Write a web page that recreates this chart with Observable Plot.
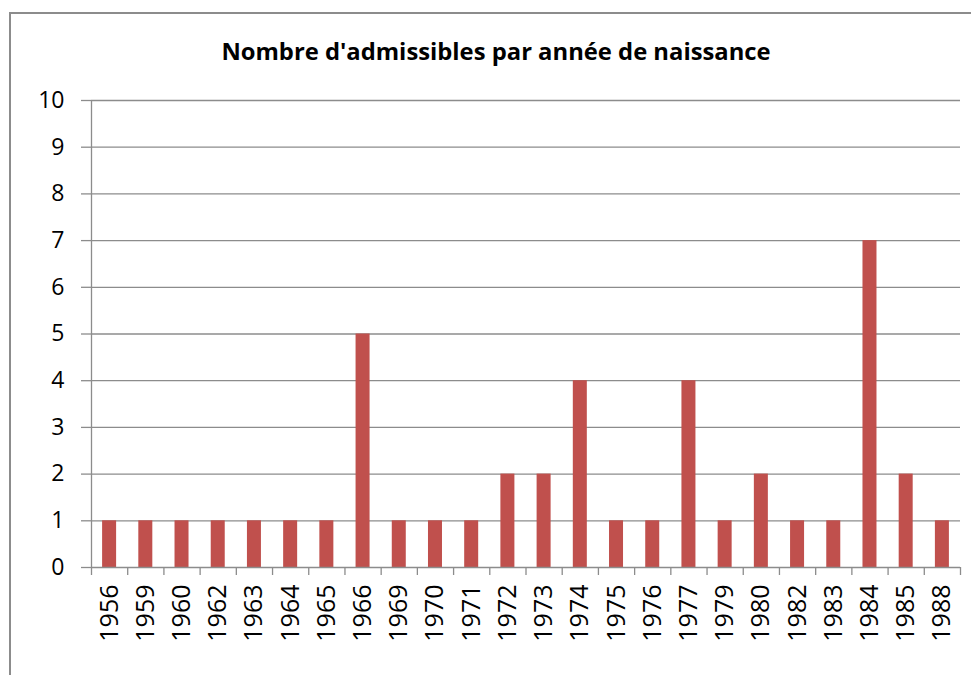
<!DOCTYPE html>
<html>
<head>
<meta charset="utf-8">
<script src="https://cdn.jsdelivr.net/npm/d3@7"></script>
<script src="https://cdn.jsdelivr.net/npm/@observablehq/plot@0.6"></script>
<style>
  html, body { margin: 0; padding: 0; background: #fff; width: 971px; height: 675px; overflow: hidden; }
  #frame { position: absolute; left: 9px; top: 12px; width: 1000px; height: 700px; border-left: 2px solid #8c8c8c; border-top: 2px solid #8c8c8c; }
  #title { position: absolute; left: 0; width: 992px; top: 37px; text-align: center; font: bold 23.8px "Open Sans", sans-serif; color: #000; line-height: 28px; z-index: 2; }
  #chart { position: absolute; left: 0; top: 0; }
</style>
</head>
<body>
<div id="frame"></div>
<div id="title">Nombre d'admissibles par année de naissance</div>
<div id="chart"></div>
<script>
const years = ["1956","1959","1960","1962","1963","1964","1965","1966","1969","1970","1971","1972","1973","1974","1975","1976","1977","1979","1980","1982","1983","1984","1985","1988"];
const counts = [1,1,1,1,1,1,1,5,1,1,1,2,2,4,1,1,4,1,2,1,1,7,2,1];
const yTicks = [0,1,2,3,4,5,6,7,8,9,10];
const gridTicks = [1,2,3,4,5,6,7,8,9,10];

const data = years.map((y, i) => ({year: y, count: counts[i]}));

const W = 971, H = 675, mL = 91, mR = 11, mT = 100, mB = 108;
const bw = (W - mL - mR) / years.length;
const barW = 14;
const inset = (bw - barW) / 2;
const gray = "#8c8c8c";

const chart = Plot.plot({
  width: W,
  height: H,
  marginLeft: mL,
  marginRight: mR,
  marginTop: mT,
  marginBottom: mB,
  style: { fontFamily: "'Open Sans', sans-serif", fontSize: "23px", color: "#000", background: "transparent" },
  x: { domain: years, padding: 0, round: false, label: null },
  y: { domain: [0, 10], label: null },
  marks: [
    Plot.ruleY(gridTicks, { stroke: gray, strokeWidth: 1.3 }),
    Plot.barY(data, { x: "year", y: "count", fill: "#C0504D", insetLeft: inset, insetRight: inset }),
    Plot.ruleY([0], { stroke: gray, strokeWidth: 1.3 }),
    Plot.ruleX([years[0]], { stroke: gray, strokeWidth: 1.3, dx: -bw / 2 }),
    Plot.ruleX(years, { y1: 0, y2: -0.171, stroke: gray, strokeWidth: 1.3, dx: -bw / 2 }),
    Plot.ruleX([years[years.length - 1]], { y1: 0, y2: -0.171, stroke: gray, strokeWidth: 1.3, dx: bw / 2 }),
    Plot.axisY(yTicks, { tickSize: 10, tickPadding: 17, stroke: gray, strokeWidth: 1.3, label: null, fill: "#000" }),
    Plot.axisX({ tickSize: 0, tickPadding: 17, tickRotate: -90, label: null, fill: "#000", fontSize: 25 })
  ]
});
document.getElementById("chart").appendChild(chart);
</script>
</body>
</html>
